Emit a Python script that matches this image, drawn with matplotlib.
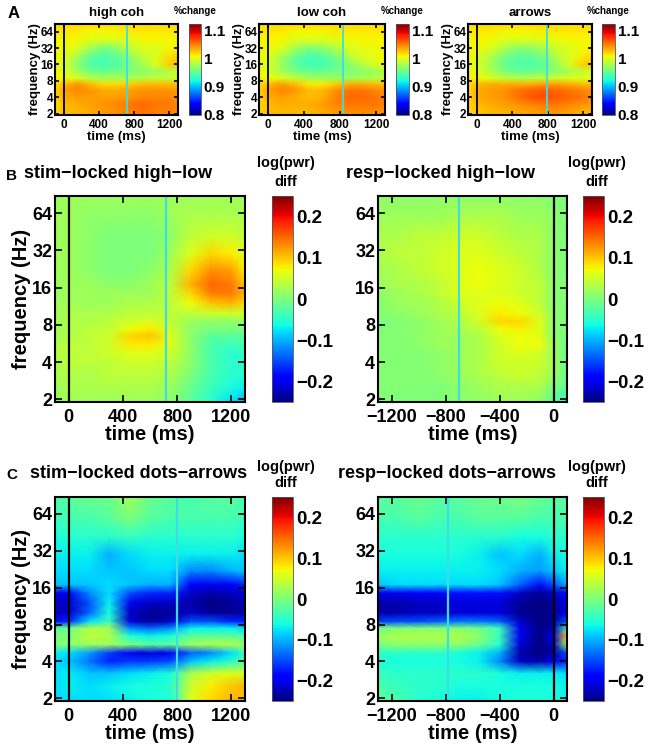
import numpy as np
import matplotlib
matplotlib.use('Agg')
from matplotlib import pyplot as plt

plt.rcParams['font.family'] = ['Liberation Sans', 'DejaVu Sans']
plt.rcParams['font.weight'] = 'bold'

# ---- data -------------------------------------------------------------
# panel A : percent change, stim-locked
freqs_a = [1.9, 3, 4, 5.5, 7, 9, 12, 16, 22, 32, 45, 64, 88]
times_stim = [-100, 0, 150, 300, 450, 600, 750, 900, 1050, 1200, 1300]

high_coh = [
    [1.02, 1.03, 1.03, 1.035, 1.04, 1.045, 1.05, 1.055, 1.05, 1.05, 1.05],
    [1.02, 1.03, 1.035, 1.04, 1.045, 1.05, 1.055, 1.06, 1.055, 1.055, 1.05],
    [1.02, 1.035, 1.04, 1.04, 1.04, 1.04, 1.045, 1.05, 1.05, 1.05, 1.045],
    [1.02, 1.04, 1.05, 1.045, 1.035, 1.035, 1.04, 1.045, 1.045, 1.045, 1.04],
    [1.02, 1.03, 1.045, 1.03, 1.02, 1.02, 1.025, 1.03, 1.03, 1.03, 1.03],
    [1.01, 1.01, 1.0, 0.985, 0.98, 0.98, 0.98, 0.985, 0.99, 0.99, 0.995],
    [1.01, 1.0, 0.98, 0.96, 0.955, 0.96, 0.965, 0.97, 0.975, 0.985, 0.99],
    [1.01, 1.0, 0.97, 0.945, 0.94, 0.945, 0.96, 0.98, 1.0, 1.025, 1.03],
    [1.01, 1.0, 0.98, 0.95, 0.945, 0.95, 0.97, 0.99, 1.0, 1.02, 1.025],
    [1.01, 1.01, 1.0, 0.98, 0.96, 0.97, 0.99, 1.0, 1.0, 1.01, 1.01],
    [1.01, 1.01, 1.01, 1.0, 1.0, 1.0, 1.0, 1.01, 1.01, 1.01, 1.01],
    [1.015, 1.015, 1.015, 1.01, 1.01, 1.01, 1.015, 1.015, 1.015, 1.015, 1.015],
    [1.02, 1.02, 1.02, 1.02, 1.02, 1.02, 1.02, 1.02, 1.02, 1.02, 1.02],
]
low_coh = [
    [1.02, 1.03, 1.03, 1.03, 1.03, 1.035, 1.04, 1.045, 1.045, 1.045, 1.04],
    [1.02, 1.03, 1.035, 1.035, 1.035, 1.04, 1.05, 1.055, 1.055, 1.055, 1.05],
    [1.02, 1.035, 1.04, 1.035, 1.03, 1.035, 1.05, 1.06, 1.06, 1.055, 1.05],
    [1.02, 1.04, 1.05, 1.045, 1.03, 1.03, 1.045, 1.055, 1.055, 1.05, 1.045],
    [1.02, 1.03, 1.04, 1.03, 1.015, 1.015, 1.025, 1.035, 1.035, 1.03, 1.03],
    [1.01, 1.01, 1.0, 0.99, 0.98, 0.975, 0.975, 0.975, 0.98, 0.985, 0.99],
    [1.01, 1.0, 0.98, 0.965, 0.955, 0.955, 0.96, 0.965, 0.97, 0.975, 0.985],
    [1.01, 1.0, 0.975, 0.95, 0.94, 0.94, 0.95, 0.97, 0.985, 1.0, 1.005],
    [1.01, 1.0, 0.98, 0.955, 0.94, 0.945, 0.96, 0.985, 1.0, 1.005, 1.01],
    [1.01, 1.01, 1.0, 0.98, 0.965, 0.97, 0.985, 1.0, 1.005, 1.01, 1.01],
    [1.01, 1.01, 1.01, 1.0, 1.0, 1.0, 1.0, 1.005, 1.01, 1.01, 1.01],
    [1.015, 1.015, 1.015, 1.01, 1.01, 1.01, 1.015, 1.015, 1.015, 1.015, 1.015],
    [1.02, 1.02, 1.02, 1.02, 1.02, 1.02, 1.02, 1.02, 1.02, 1.02, 1.02],
]
arrows = [
    [1.02, 1.025, 1.03, 1.03, 1.035, 1.035, 1.04, 1.04, 1.035, 1.03, 1.03],
    [1.02, 1.03, 1.035, 1.04, 1.045, 1.05, 1.055, 1.055, 1.05, 1.045, 1.04],
    [1.02, 1.035, 1.04, 1.045, 1.055, 1.065, 1.07, 1.065, 1.06, 1.055, 1.05],
    [1.02, 1.035, 1.04, 1.045, 1.055, 1.06, 1.065, 1.06, 1.055, 1.05, 1.045],
    [1.02, 1.03, 1.035, 1.035, 1.035, 1.035, 1.04, 1.04, 1.035, 1.03, 1.03],
    [1.01, 1.01, 1.0, 0.99, 0.985, 0.985, 0.99, 0.995, 1.0, 1.0, 1.005],
    [1.01, 1.0, 0.985, 0.965, 0.955, 0.955, 0.96, 0.97, 0.98, 0.99, 1.0],
    [1.01, 1.0, 0.98, 0.955, 0.945, 0.945, 0.95, 0.975, 1.0, 1.025, 1.03],
    [1.01, 1.0, 0.985, 0.96, 0.95, 0.95, 0.96, 0.985, 1.0, 1.015, 1.02],
    [1.01, 1.01, 1.0, 0.985, 0.97, 0.97, 0.98, 0.995, 1.0, 1.01, 1.01],
    [1.01, 1.01, 1.01, 1.0, 1.0, 1.0, 1.0, 1.005, 1.01, 1.01, 1.01],
    [1.015, 1.015, 1.015, 1.01, 1.01, 1.01, 1.015, 1.015, 1.015, 1.015, 1.015],
    [1.02, 1.02, 1.02, 1.02, 1.02, 1.02, 1.02, 1.02, 1.02, 1.02, 1.02],
]

# panels B and C : log power differences
freqs_bc = [1.9, 2.5, 3.2, 4, 4.7, 5.5, 6.5, 7.5, 8.5, 10, 12, 14.5, 17, 22, 30, 42, 60, 88]
times_resp = [-1300, -1150, -1000, -850, -700, -550, -400, -250, -100, 0, 100]

stim_high_low = [
    [0.02, 0.02, 0.02, 0.02, 0.02, 0.02, 0.01, -0.02, -0.05, -0.08, -0.1],
    [0.02, 0.03, 0.03, 0.03, 0.03, 0.03, 0.02, -0.01, -0.04, -0.06, -0.07],
    [0.03, 0.03, 0.03, 0.04, 0.04, 0.04, 0.03, 0.0, -0.03, -0.05, -0.05],
    [0.03, 0.04, 0.04, 0.04, 0.05, 0.05, 0.04, 0.01, -0.03, -0.05, -0.05],
    [0.03, 0.04, 0.04, 0.05, 0.06, 0.06, 0.05, 0.01, -0.03, -0.05, -0.05],
    [0.03, 0.04, 0.04, 0.05, 0.08, 0.08, 0.06, 0.01, -0.03, -0.04, -0.03],
    [0.02, 0.03, 0.04, 0.05, 0.09, 0.1, 0.06, 0.01, -0.02, -0.02, -0.02],
    [0.02, 0.03, 0.04, 0.04, 0.07, 0.08, 0.05, 0.01, 0.0, 0.0, 0.0],
    [0.02, 0.03, 0.03, 0.04, 0.05, 0.06, 0.04, 0.02, 0.01, 0.01, 0.02],
    [0.02, 0.03, 0.03, 0.03, 0.04, 0.04, 0.04, 0.04, 0.05, 0.05, 0.05],
    [0.02, 0.02, 0.02, 0.02, 0.03, 0.03, 0.04, 0.07, 0.1, 0.11, 0.09],
    [0.02, 0.02, 0.02, 0.02, 0.02, 0.02, 0.04, 0.09, 0.14, 0.14, 0.11],
    [0.02, 0.02, 0.02, 0.01, 0.01, 0.02, 0.04, 0.11, 0.15, 0.14, 0.1],
    [0.02, 0.02, 0.01, 0.0, 0.0, 0.01, 0.03, 0.09, 0.13, 0.12, 0.08],
    [0.02, 0.02, 0.01, 0.0, 0.0, 0.0, 0.02, 0.06, 0.09, 0.08, 0.06],
    [0.02, 0.02, 0.01, 0.0, 0.0, 0.0, 0.01, 0.04, 0.05, 0.05, 0.04],
    [0.02, 0.02, 0.01, 0.01, 0.01, 0.01, 0.02, 0.03, 0.03, 0.03, 0.03],
    [0.02, 0.02, 0.02, 0.02, 0.02, 0.02, 0.02, 0.02, 0.02, 0.02, 0.02],
]
resp_high_low = [
    [0.005, 0.0, 0.0, 0.0, 0.01, 0.01, 0.02, 0.02, 0.01, -0.02, -0.05],
    [0.005, 0.005, 0.005, 0.0, 0.01, 0.02, 0.03, 0.03, 0.03, 0.0, -0.02],
    [0.005, 0.005, 0.005, 0.01, 0.02, 0.03, 0.04, 0.05, 0.04, 0.02, -0.01],
    [0.005, 0.005, 0.005, 0.01, 0.02, 0.03, 0.05, 0.05, 0.05, 0.02, -0.01],
    [0.005, 0.005, 0.005, 0.01, 0.02, 0.03, 0.05, 0.06, 0.05, 0.02, -0.01],
    [0.005, 0.005, 0.01, 0.02, 0.02, 0.03, 0.05, 0.07, 0.07, 0.02, -0.01],
    [0.005, 0.005, 0.01, 0.02, 0.02, 0.03, 0.06, 0.07, 0.06, 0.01, 0.0],
    [0.0, 0.005, 0.01, 0.02, 0.03, 0.04, 0.07, 0.08, 0.06, 0.01, 0.0],
    [0.0, 0.005, 0.01, 0.02, 0.03, 0.05, 0.09, 0.09, 0.06, 0.01, 0.0],
    [0.005, 0.01, 0.02, 0.03, 0.04, 0.06, 0.08, 0.07, 0.05, 0.01, 0.0],
    [0.005, 0.02, 0.02, 0.03, 0.05, 0.06, 0.07, 0.06, 0.04, 0.01, 0.0],
    [0.01, 0.02, 0.03, 0.04, 0.06, 0.06, 0.06, 0.05, 0.04, 0.01, 0.0],
    [0.02, 0.03, 0.03, 0.04, 0.06, 0.07, 0.06, 0.05, 0.04, 0.01, 0.0],
    [0.02, 0.03, 0.04, 0.05, 0.06, 0.07, 0.06, 0.05, 0.03, 0.01, 0.0],
    [0.03, 0.04, 0.04, 0.05, 0.06, 0.06, 0.05, 0.04, 0.03, 0.01, 0.0],
    [0.03, 0.03, 0.04, 0.04, 0.05, 0.05, 0.04, 0.03, 0.03, 0.01, 0.0],
    [0.02, 0.02, 0.02, 0.02, 0.03, 0.03, 0.03, 0.02, 0.02, 0.01, 0.0],
    [0.01, 0.01, 0.01, 0.01, 0.01, 0.01, 0.01, 0.01, 0.01, 0.0, 0.0],
]
stim_dots_arrows = [
    [-0.08, -0.08, -0.08, -0.08, -0.07, -0.06, -0.06, 0.06, 0.09, 0.11, 0.1],
    [-0.08, -0.07, -0.08, -0.07, -0.06, -0.06, -0.05, 0.05, 0.08, 0.1, 0.11],
    [-0.08, -0.07, -0.09, -0.09, -0.08, -0.07, -0.06, 0.03, 0.05, 0.06, 0.05],
    [-0.08, -0.09, -0.13, -0.17, -0.16, -0.16, -0.15, -0.09, -0.07, -0.05, -0.03],
    [-0.07, -0.08, -0.11, -0.16, -0.2, -0.21, -0.2, -0.14, -0.12, -0.08, -0.04],
    [0.0, 0.01, 0.02, 0.02, 0.0, -0.02, -0.02, 0.02, 0.03, 0.03, 0.02],
    [0.0, 0.0, 0.04, 0.03, -0.06, -0.07, -0.06, -0.02, -0.02, -0.02, -0.03],
    [-0.02, -0.01, 0.03, 0.02, -0.12, -0.14, -0.12, -0.07, -0.07, -0.07, -0.08],
    [-0.18, -0.17, -0.08, -0.04, -0.21, -0.24, -0.22, -0.15, -0.15, -0.17, -0.17],
    [-0.22, -0.22, -0.14, -0.06, -0.22, -0.24, -0.24, -0.22, -0.24, -0.24, -0.23],
    [-0.22, -0.22, -0.15, -0.07, -0.2, -0.22, -0.22, -0.23, -0.25, -0.24, -0.23],
    [-0.2, -0.2, -0.12, -0.08, -0.15, -0.17, -0.17, -0.22, -0.23, -0.22, -0.21],
    [-0.09, -0.09, -0.09, -0.08, -0.09, -0.1, -0.1, -0.19, -0.2, -0.19, -0.17],
    [-0.08, -0.08, -0.08, -0.09, -0.09, -0.08, -0.08, -0.12, -0.12, -0.1, -0.09],
    [-0.07, -0.07, -0.07, -0.1, -0.08, -0.07, -0.07, -0.07, -0.07, -0.07, -0.08],
    [-0.06, -0.05, -0.05, -0.05, -0.04, -0.05, -0.05, -0.05, -0.05, -0.05, -0.06],
    [-0.04, -0.03, -0.03, -0.02, 0.0, -0.02, -0.03, -0.03, -0.03, -0.03, -0.04],
    [-0.03, -0.02, -0.01, -0.01, 0.02, -0.01, -0.02, -0.03, -0.02, -0.02, -0.03],
]
resp_dots_arrows = [
    [-0.02, -0.03, -0.05, -0.06, -0.07, -0.07, -0.06, -0.06, -0.06, -0.06, -0.07],
    [-0.03, -0.04, -0.05, -0.05, -0.06, -0.06, -0.06, -0.06, -0.06, -0.06, -0.07],
    [-0.04, -0.05, -0.05, -0.05, -0.05, -0.05, -0.06, -0.07, -0.07, -0.07, -0.08],
    [-0.06, -0.06, -0.06, -0.06, -0.06, -0.07, -0.12, -0.22, -0.23, -0.2, -0.17],
    [-0.05, -0.05, -0.05, -0.05, -0.06, -0.07, -0.1, -0.23, -0.25, -0.23, -0.15],
    [0.0, 0.01, 0.01, 0.01, 0.01, -0.01, -0.05, -0.21, -0.25, -0.22, 0.02],
    [0.02, 0.03, 0.03, 0.03, 0.03, 0.01, -0.04, -0.2, -0.25, -0.2, 0.1],
    [-0.01, 0.0, 0.0, 0.0, 0.0, -0.01, -0.04, -0.2, -0.25, -0.23, -0.05],
    [-0.16, -0.15, -0.15, -0.14, -0.13, -0.13, -0.14, -0.22, -0.25, -0.24, -0.15],
    [-0.23, -0.23, -0.22, -0.22, -0.21, -0.21, -0.21, -0.24, -0.25, -0.24, -0.2],
    [-0.23, -0.23, -0.22, -0.22, -0.21, -0.21, -0.21, -0.24, -0.25, -0.24, -0.2],
    [-0.2, -0.2, -0.19, -0.19, -0.18, -0.18, -0.18, -0.22, -0.24, -0.22, -0.18],
    [-0.09, -0.08, -0.08, -0.08, -0.08, -0.08, -0.09, -0.14, -0.18, -0.15, -0.1],
    [-0.07, -0.07, -0.07, -0.07, -0.07, -0.07, -0.08, -0.1, -0.11, -0.09, -0.07],
    [-0.06, -0.06, -0.06, -0.06, -0.06, -0.07, -0.09, -0.08, -0.1, -0.07, -0.06],
    [-0.05, -0.05, -0.05, -0.05, -0.05, -0.05, -0.05, -0.06, -0.06, -0.05, -0.05],
    [-0.03, -0.03, -0.02, -0.03, -0.03, -0.02, -0.02, -0.02, -0.03, -0.03, -0.03],
    [-0.02, -0.02, -0.01, -0.02, -0.02, -0.01, -0.01, 0.0, -0.01, -0.02, -0.02],
]

freq_ticks = [2, 4, 8, 16, 32, 64]
stim_ticks = [0, 400, 800, 1200]
resp_ticks = [-1200, -800, -400, 0]
pct_ticks = [0.8, 0.9, 1.0, 1.1]
pct_labels = ['0.8', '0.9', '1', '1.1']
diff_ticks = [-0.2, -0.1, 0.0, 0.1, 0.2]
diff_labels = ['\u22120.2', '\u22120.1', '0', '0.1', '0.2']

W, H = 650, 753
fig = plt.figure(figsize=(W / 100, H / 100), dpi=100)


def box(left, top, right, bottom):
    # pixel box -> figure fraction rect
    return [left / W, 1 - bottom / H, (right - left) / W, (bottom - top) / H]


def draw_panel(rect, times, freqs, vals, vmin, vmax, xticks, cyan_t,
               small=False, ylabel=True):
    ax = fig.add_axes(rect)
    X, Y = np.meshgrid(times, freqs)
    m = ax.pcolormesh(X, Y, np.array(vals), cmap='jet', vmin=vmin, vmax=vmax,
                      shading='gouraud')
    ax.set_yscale('log', base=2)
    ax.set_xlim(times[0], times[-1])
    ax.set_ylim(freqs[0], freqs[-1])
    ax.set_yticks(freq_ticks)
    ax.set_yticklabels([str(f) for f in freq_ticks])
    ax.yaxis.set_minor_locator(matplotlib.ticker.NullLocator())
    ax.set_xticks(xticks)
    ax.axvline(0, color='black', lw=1.6 if not small else 1.3)
    ax.axvline(cyan_t, color='#3fdde3', lw=1.6 if not small else 1.3)
    fs_tick = 8.5 if small else 13
    fs_lab = 9.5 if small else 14.5
    ax.tick_params(direction='in', top=True, right=True,
                   length=3 if small else 5, width=1.2,
                   labelsize=fs_tick)
    ax.tick_params(axis='y', pad=1 if small else 2)
    ax.tick_params(axis='x', pad=3 if small else 5)
    for lab in ax.get_xticklabels() + ax.get_yticklabels():
        lab.set_fontweight('bold')
    for s in ax.spines.values():
        s.set_linewidth(1.5)
    ax.set_xlabel('time (ms)', fontsize=fs_lab, fontweight='bold',
                  labelpad=0 if small else -1)
    if ylabel:
        ax.set_ylabel('frequency (Hz)', fontsize=fs_lab, fontweight='bold',
                      labelpad=0 if small else 1)
    return ax, m


def draw_cbar(rect, mesh, ticks, labels, fs):
    cax = fig.add_axes(rect)
    cb = fig.colorbar(mesh, cax=cax, ticks=ticks)
    cb.set_ticklabels(labels)
    cb.outline.set_linewidth(0.6)
    cb.outline.set_edgecolor('#555555')
    cax.tick_params(length=0, labelsize=fs, pad=2)
    for lab in cax.get_yticklabels():
        lab.set_fontweight('bold')
    return cb


# ---- panel A ------------------------------------------------------------
a_specs = [
    (55, 178, 189, 201, high_coh, 'high coh', 720),
    (259, 385, 396, 409, low_coh, 'low coh', 830),
    (468, 592, 602, 615, arrows, 'arrows', 790),
]
for l, r, cl, cr, vals, title, cyan_t in a_specs:
    ax, m = draw_panel(box(l, 24, r, 115), times_stim, freqs_a, vals,
                       0.8, 1.125, stim_ticks, cyan_t, small=True)
    ax.set_title(title, fontsize=9.5, fontweight='bold', pad=6)
    draw_cbar(box(cl, 24, cr, 115), m, pct_ticks, pct_labels, 11)
    fig.text((cl + cr) / 2 / W, 1 - 11 / H, '%change', fontsize=7,
             fontweight='bold', ha='center', va='center')

# ---- panels B and C -----------------------------------------------------
bc_specs = [
    (196, 402, 55, 245, 272, 293, times_stim, stim_high_low, stim_ticks, 720, True,
     'stim\u2212locked high\u2212low', 118, 173, 163, 182),
    (196, 402, 378, 567, 583, 604, times_resp, resp_high_low, resp_ticks, -700, False,
     'resp\u2212locked high\u2212low', 441, 173, 163, 182),
    (497, 701, 55, 245, 272, 293, times_stim, stim_dots_arrows, stim_ticks, 800, True,
     'stim\u2212locked dots\u2212arrows', 139, 474, 467, 483),
    (497, 701, 378, 567, 583, 604, times_resp, resp_dots_arrows, resp_ticks, -780, False,
     'resp\u2212locked dots\u2212arrows', 447, 474, 467, 483),
]
for (t, b, l, r, cl, cr, times, vals, xt, cyan_t, ylab,
     title, tx, ty, ly1, ly2) in bc_specs:
    ax, m = draw_panel(box(l, t, r, b), times, freqs_bc, vals, -0.25, 0.25,
                       xt, cyan_t, ylabel=ylab)
    draw_cbar(box(cl, t, cr, b), m, diff_ticks, diff_labels, 13.5)
    fig.text(tx / W, 1 - ty / H, title, fontsize=13, fontweight='bold',
             ha='center', va='center')
    cx = (cl + cr) / 2 + 3
    fig.text(cx / W, 1 - ly1 / H, 'log(pwr)', fontsize=10.5, fontweight='bold',
             ha='center', va='center')
    fig.text(cx / W, 1 - ly2 / H, 'diff', fontsize=10.5, fontweight='bold',
             ha='center', va='center')

# panel letters
fig.text(8 / W, 1 - 13 / H, 'A', fontsize=12, fontweight='bold', ha='left', va='center')
fig.text(6 / W, 1 - 176 / H, 'B', fontsize=11, fontweight='bold', ha='left', va='center')
fig.text(6 / W, 1 - 475 / H, 'C', fontsize=11, fontweight='bold', ha='left', va='center')

fig.savefig('out.png', dpi=100)
